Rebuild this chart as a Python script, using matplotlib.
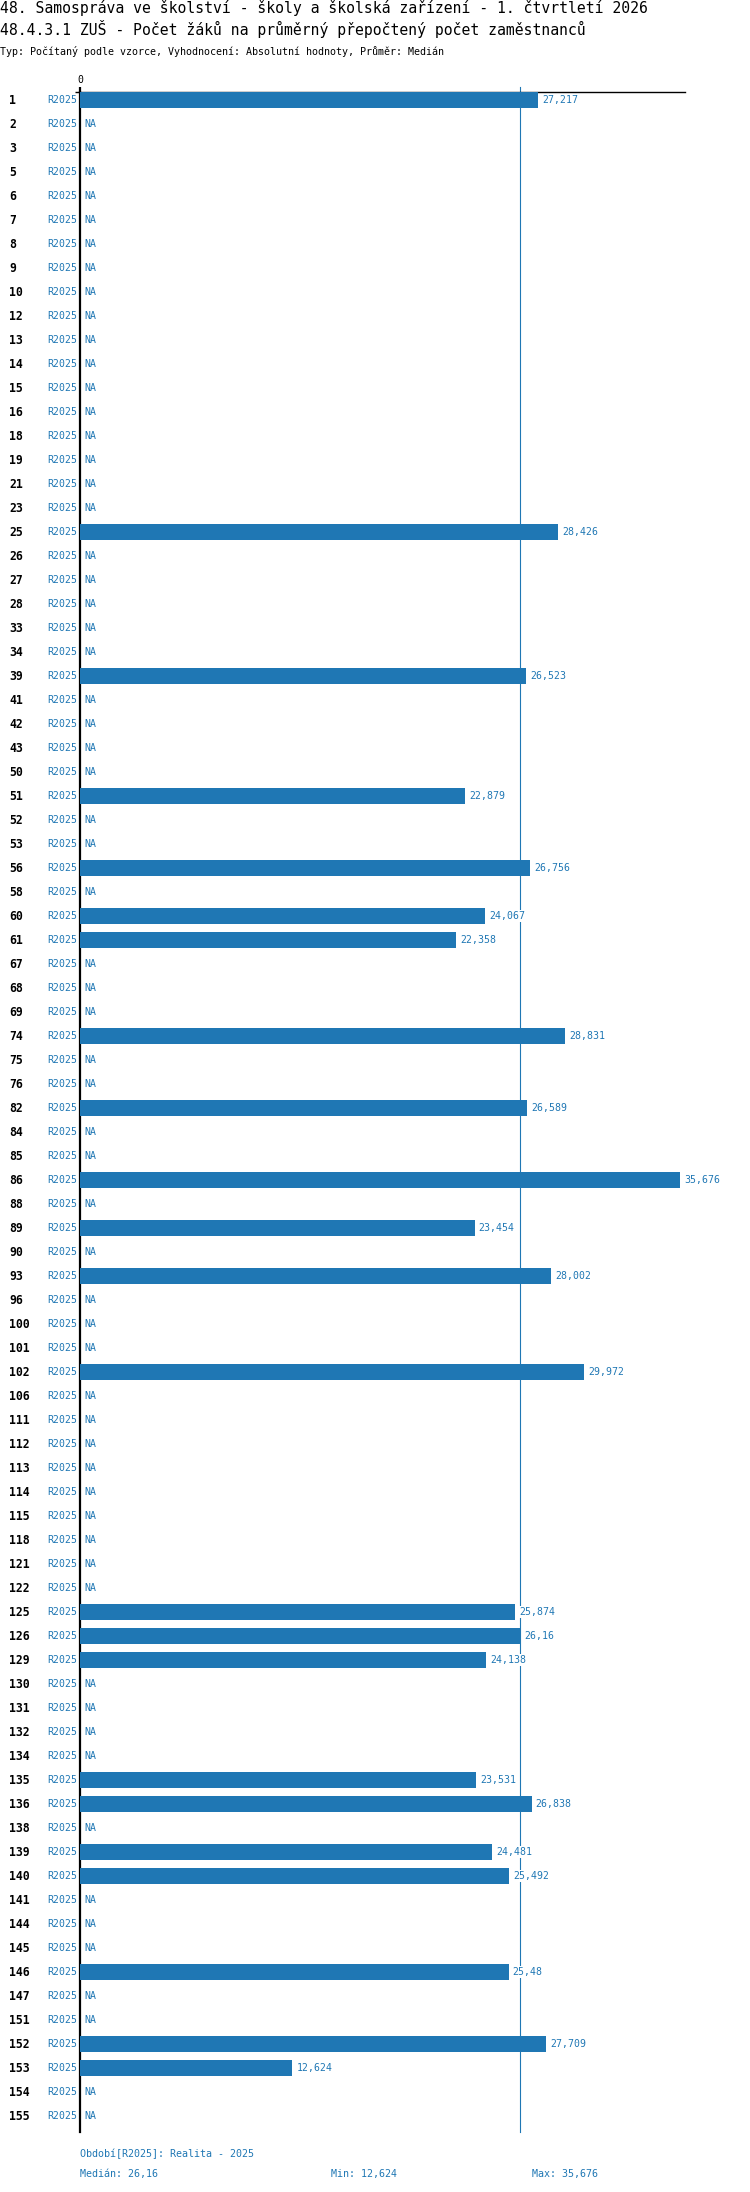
import numpy as np
import matplotlib
matplotlib.use("Agg")
import matplotlib.pyplot as plt
from matplotlib import transforms

# --- data -------------------------------------------------------------
rows = [1, 2, 3, 5, 6, 7, 8, 9, 10, 12, 13, 14, 15, 16, 18, 19, 21, 23, 25, 26,
        27, 28, 33, 34, 39, 41, 42, 43, 50, 51, 52, 53, 56, 58, 60, 61, 67, 68,
        69, 74, 75, 76, 82, 84, 85, 86, 88, 89, 90, 93, 96, 100, 101, 102, 106,
        111, 112, 113, 114, 115, 118, 121, 122, 125, 126, 129, 130, 131, 132,
        134, 135, 136, 138, 139, 140, 141, 144, 145, 146, 147, 151, 152, 153,
        154, 155]

# rows with a value; every other row is NA
value_rows = [1, 25, 39, 51, 56, 60, 61, 74, 82, 86, 89, 93, 102, 125, 126,
              129, 135, 136, 139, 140, 146, 152, 153]
value_vals = [27.217, 28.426, 26.523, 22.879, 26.756, 24.067, 22.358, 28.831,
              26.589, 35.676, 23.454, 28.002, 29.972, 25.874, 26.16, 24.138,
              23.531, 26.838, 24.481, 25.492, 25.48, 27.709, 12.624]

period = "R2025"
title1 = "48. Samospráva ve školství - školy a školská zařízení - 1. čtvrtletí 2026"
title2 = "48.4.3.1 ZUŠ - Počet žáků na průměrný přepočtený počet zaměstnanců"
subtitle = "Typ: Počítaný podle vzorce, Vyhodnocení: Absolutní hodnoty, Průměr: Medián"
footer_period = "Období[R2025]: Realita - 2025"

BLUE = "#1f77b4"
MONO = ["DejaVu Sans Mono"]
W, H = 750, 2192


def fmt(v):
    return f"{v:g}".replace(".", ",")


vals = dict(zip(value_rows, value_vals))
ypos = np.arange(len(rows))

fig = plt.figure(figsize=(W / 100, H / 100), dpi=100)
ax_top, ax_bot = 92, 2132
ax = fig.add_axes([80 / W, 1 - ax_bot / H, (685 - 80) / W, (ax_bot - ax_top) / H])

row_h = (ax_bot - ax_top) / len(rows)
ax.set_ylim(len(rows) - 1 + (ax_bot - ax_top - row_h * (len(rows) - 1) - 8) / row_h, -8 / row_h)
ax.set_xlim(0, 35.95)

bx = [vals[r] for r in rows if r in vals]
by = [i for i, r in zip(ypos, rows) if r in vals]
ax.barh(by, bx, height=16 / row_h, color=BLUE, zorder=3)

med = float(np.median(value_vals))
ax.axvline(med, ymin=0, ymax=1 + 5 / (ax_bot - ax_top), color=BLUE, lw=0.8,
           clip_on=False, zorder=1)

row_tr = transforms.blended_transform_factory(fig.transFigure, ax.transData)
for i, r in zip(ypos, rows):
    ax.text(9 / W, i, str(r), transform=row_tr, ha="left", va="center",
            fontsize=8.3, fontweight="bold", family=MONO, color="black")
    ax.text(77 / W, i, period, transform=row_tr, ha="right", va="center",
            fontsize=7.1, family=MONO, color=BLUE)
    if r in vals:
        v = vals[r]
        ax.annotate(fmt(v), xy=(v, i), xytext=(4, 0), textcoords="offset pixels",
                    ha="left", va="center", fontsize=7.1, family=MONO, color=BLUE,
                    bbox=dict(facecolor="white", edgecolor="none", pad=0.5),
                    zorder=4, annotation_clip=False)
    else:
        ax.annotate("NA", xy=(0, i), xytext=(4, 0), textcoords="offset pixels",
                    ha="left", va="center", fontsize=7.1, family=MONO, color=BLUE,
                    annotation_clip=False)

for s in ["right", "bottom"]:
    ax.spines[s].set_visible(False)
ax.spines["left"].set_linewidth(1.6)
ax.spines["top"].set_linewidth(1.0)
ax.spines["top"].set_color("black")
ax.xaxis.set_ticks_position("top")
ax.set_xticks([0])
ax.set_xticklabels(["0"], family=MONO, fontsize=7.1)
ax.tick_params(axis="x", length=3.6, width=1.6, pad=1.5)
ax.set_yticks([ax.get_ylim()[1]])
ax.set_yticklabels([])
ax.tick_params(axis="y", length=3.6, width=1.0)

fig.text(0, 1 - 13.5 / H, title1, ha="left", va="baseline", fontsize=10.6, family=MONO)
fig.text(0, 1 - 35 / H, title2, ha="left", va="baseline", fontsize=10.6, family=MONO)
fig.text(0, 1 - 55 / H, subtitle, ha="left", va="baseline", fontsize=7.2, family=MONO)

fig.text(80 / W, 1 - 2154 / H, footer_period, ha="left", va="center",
         fontsize=7.2, family=MONO, color=BLUE)
fig.text(80 / W, 1 - 2174 / H, f"Medián: {fmt(med)}", ha="left", va="center",
         fontsize=7.2, family=MONO, color=BLUE)
fig.text(331 / W, 1 - 2174 / H, f"Min: {fmt(min(value_vals))}", ha="left", va="center",
         fontsize=7.2, family=MONO, color=BLUE)
fig.text(532 / W, 1 - 2174 / H, f"Max: {fmt(max(value_vals))}", ha="left", va="center",
         fontsize=7.2, family=MONO, color=BLUE)

fig.savefig("out.png", dpi=100)
